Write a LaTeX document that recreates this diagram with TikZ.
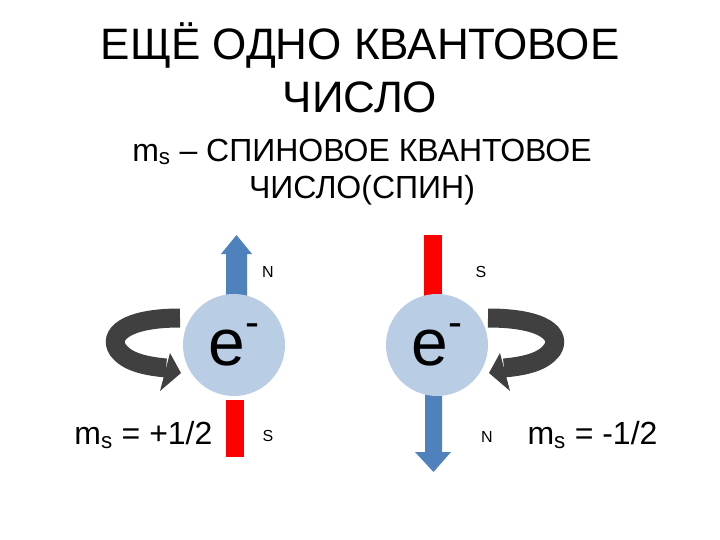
\documentclass[tikz,border=0pt]{standalone}
\usepackage{fontspec}
\setmainfont{Liberation Sans}
\begin{document}
\begin{tikzpicture}[x=1pt,y=-1pt,
  ball/.style={circle,fill=ballblue,minimum size=102pt,inner sep=0pt,font=\fontsize{66}{66}\selectfont},
  pole/.style={font=\fontsize{16}{16}\selectfont},
  big/.style={font=\fontsize{44}{48}\selectfont,align=center},
  mid/.style={font=\fontsize{32}{36}\selectfont,align=center},
  spin/.style={draw=spingray,line width=19pt},
  spinhead/.style={fill=spingray}]
\definecolor{ballblue}{HTML}{B9CDE5}
\definecolor{arrblue}{HTML}{4F81BD}
\definecolor{spingray}{HTML}{404040}
\useasboundingbox (0,0) rectangle (720,540);
\node[big] (t1) at (360,45) {ЕЩЁ ОДНО КВАНТОВОЕ};
\node[big] (t2) at (360,97) {ЧИСЛО};
\node[mid] (s1) at (362,152) {m\textsubscript{s} – СПИНОВОЕ КВАНТОВОЕ};
\node[mid] (s2) at (362,190) {ЧИСЛО(СПИН)};
% left electron
\fill[arrblue] (226,300) -- (226,254) -- (221,254) -- (236.5,235) -- (252,254) -- (247,254) -- (247,300) -- cycle;
\fill[red] (226,400) rectangle (244,457);
\node[ball] (e1) at (234,345) {e\raisebox{0.45em}{\fontsize{42}{42}\selectfont -}};
\node[pole] (n1) at (268,272) {N};
\node[pole] (s1p) at (268,436) {S};
\draw[spin] (180,318) .. controls (125,318) and (108,335) .. (118,350) .. controls (127,362) and (145,366) .. (166,368);
\fill[spinhead] (170,353) -- (181,373) -- (160,391) -- cycle;
\node[mid,anchor=east] (m1) at (216,435) {m\textsubscript{s} = +1/2};
% right electron
\fill[red] (424,235) rectangle (442,300);
\fill[arrblue] (425,390) -- (425,452) -- (415,452) -- (433.5,472) -- (451,452) -- (442,452) -- (442,390) -- cycle;
\node[ball] (e2) at (437,345) {e\raisebox{0.45em}{\fontsize{42}{42}\selectfont -}};
\node[pole] (s2p) at (481,272) {S};
\node[pole] (n2p) at (487,437) {N};
\draw[spin] (488,318) .. controls (545,318) and (562,335) .. (552,350) .. controls (543,362) and (525,366) .. (504,368);
\fill[spinhead] (500,353) -- (489,373) -- (510,391) -- cycle;
\node[mid,anchor=west] (m2) at (524,435) {m\textsubscript{s} = -1/2};
\end{tikzpicture}
\end{document}
